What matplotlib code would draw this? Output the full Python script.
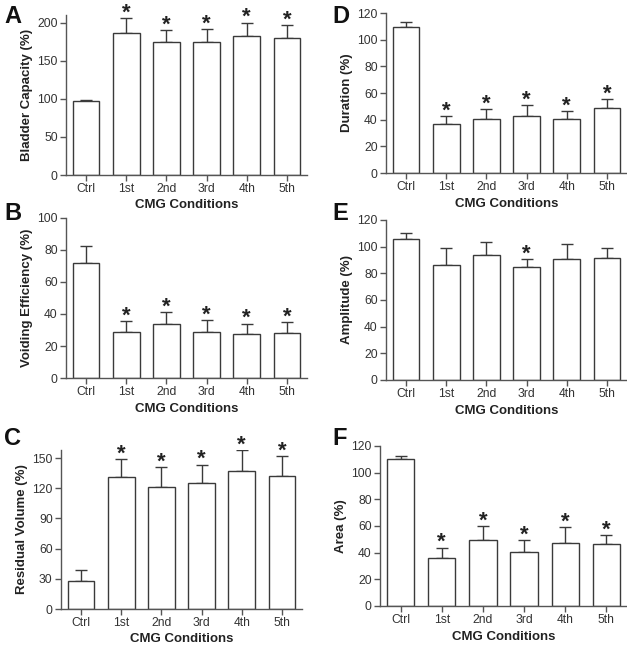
import matplotlib.pyplot as plt
import numpy as np

plt.rcParams['font.family'] = ['Liberation Sans', 'DejaVu Sans']

# data
conditions = ["Ctrl", "1st", "2nd", "3rd", "4th", "5th"]

capacity = [97.5, 186, 175, 174.5, 182, 180]
capacity_err = [1, 20, 15, 16.5, 18, 17]
efficiency = [72, 29, 34, 29, 27.5, 28]
efficiency_err = [10.5, 6.5, 7.3, 7, 6.5, 7]
residual = [28, 131, 121, 125.5, 137, 132]
residual_err = [10.5, 18, 20, 18, 21, 20]
duration = [109.5, 36.7, 40.5, 42.7, 40.5, 48.5]
duration_err = [4, 6, 7.5, 8, 6.2, 7]
amplitude = [105.5, 86.5, 93.7, 84.7, 90.7, 91.2]
amplitude_err = [4.5, 12.5, 10, 6.3, 11.3, 7.5]
area = [110, 36.3, 49.3, 40.5, 47.3, 46.5]
area_err = [2.7, 7.5, 10.5, 8.8, 11.8, 7]

sig_all = [False, True, True, True, True, True]
sig_amp = [False, False, False, True, False, False]

W, H = 627, 649
fig = plt.figure(figsize=(W / 100, H / 100), dpi=100)


def px_axes(left, top, right, bottom):
    return fig.add_axes([left / W, 1 - bottom / H, (right - left) / W, (bottom - top) / H])


def panel(ax, vals, errs, sig, ylabel, ymax, yticks):
    x = np.arange(len(conditions))
    ax.bar(x, vals, width=0.66, color="white", edgecolor="#3a3a3a", linewidth=1.0, zorder=2)
    ax.errorbar(x, vals, yerr=[np.zeros(len(vals)), errs], fmt="none",
                ecolor="#3a3a3a", elinewidth=1.0, capsize=4, capthick=1.0, zorder=1)
    for xi, v, e, s in zip(x, vals, errs, sig):
        if s:
            ax.annotate("*", (xi, v + e), xytext=(0, -4), textcoords="offset points",
                        ha="center", va="bottom", fontsize=16, fontweight="bold", color="#222222")
    ax.set_xlim(-0.5, 5.5)
    ax.set_ylim(0, ymax)
    ax.set_yticks(yticks)
    ax.set_xticks(x)
    ax.set_xticklabels(conditions)
    for sp in ["top", "right"]:
        ax.spines[sp].set_visible(False)
    for sp in ["left", "bottom"]:
        ax.spines[sp].set_color("#555555")
        ax.spines[sp].set_linewidth(1.0)
    ax.tick_params(direction="out", length=4, width=1.0, color="#555555",
                   labelsize=8.7, labelcolor="#333333", pad=2)
    ax.set_ylabel(ylabel, fontsize=9.5, fontweight="bold", color="#222222", labelpad=3)
    ax.set_xlabel("CMG Conditions", fontsize=9.5, fontweight="bold", color="#222222", labelpad=3)


axA = px_axes(66, 15, 307, 175)
panel(axA, capacity, capacity_err, sig_all, "Bladder Capacity (%)", 210, range(0, 201, 50))
axB = px_axes(66, 218, 307, 378)
panel(axB, efficiency, efficiency_err, sig_all, "Voiding Efficiency (%)", 100, range(0, 101, 20))
axC = px_axes(61, 450, 302, 609)
panel(axC, residual, residual_err, sig_all, "Residual Volume (%)", 158, range(0, 151, 30))
axD = px_axes(386, 13, 627, 173)
panel(axD, duration, duration_err, sig_all, "Duration (%)", 120, range(0, 121, 20))
axE = px_axes(386, 220, 627, 380)
panel(axE, amplitude, amplitude_err, sig_amp, "Amplitude (%)", 120, range(0, 121, 20))
axF = px_axes(380, 446, 627, 606)
panel(axF, area, area_err, sig_all, "Area (%)", 120, range(0, 121, 20))

letters = [("A", 4, 5), ("B", 4, 202), ("C", 4, 427), ("D", 332, 5), ("E", 332, 202), ("F", 332, 427)]
for t, lx, ly in letters:
    fig.text(lx / W, 1 - ly / H, t, fontsize=17, fontweight="bold", ha="left", va="top", color="#111111")

fig.savefig("out.png", dpi=100)
